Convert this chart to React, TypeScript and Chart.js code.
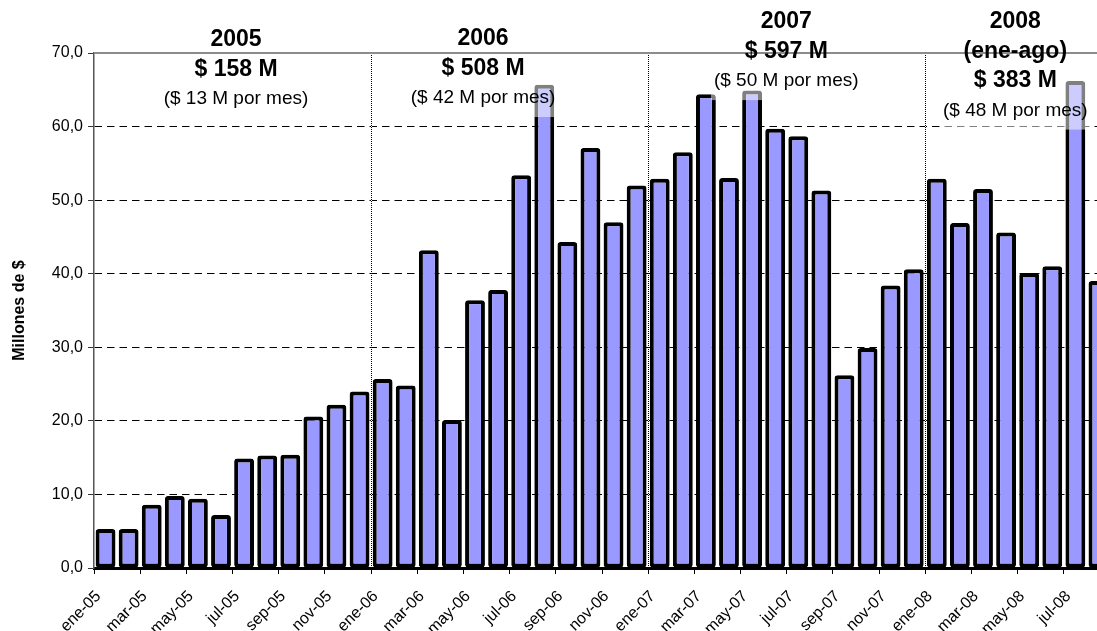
import React, { useEffect, useRef } from 'react';
import { Chart, registerables } from 'chart.js';

Chart.register(...registerables);

// Monthly categories, January 2005 through August 2008
const months: string[] = [
  'ene-05', 'feb-05', 'mar-05', 'abr-05', 'may-05', 'jun-05', 'jul-05', 'ago-05', 'sep-05', 'oct-05', 'nov-05', 'dic-05',
  'ene-06', 'feb-06', 'mar-06', 'abr-06', 'may-06', 'jun-06', 'jul-06', 'ago-06', 'sep-06', 'oct-06', 'nov-06', 'dic-06',
  'ene-07', 'feb-07', 'mar-07', 'abr-07', 'may-07', 'jun-07', 'jul-07', 'ago-07', 'sep-07', 'oct-07', 'nov-07', 'dic-07',
  'ene-08', 'feb-08', 'mar-08', 'abr-08', 'may-08', 'jun-08', 'jul-08', 'ago-08',
];

// Monthly amounts, millions of $
const values2005: number[] = [5.3, 5.3, 8.6, 9.8, 9.4, 7.2, 14.9, 15.3, 15.4, 20.6, 22.2, 24.0];
const values2006: number[] = [25.7, 24.8, 43.2, 20.1, 36.4, 37.8, 53.4, 65.7, 44.3, 57.1, 47.0, 52.0];
const values2007: number[] = [52.9, 56.5, 64.4, 53.0, 64.9, 59.7, 58.7, 51.3, 26.2, 29.9, 38.4, 40.6];
const values2008: number[] = [52.9, 46.9, 51.5, 45.6, 40.1, 41.0, 66.2, 39.0];

const yTicks: number[] = [0, 10, 20, 30, 40, 50, 60, 70];

// Yearly summary notes
const noteYears: string[] = ['2005', '2006', '2007', '2008'];
const noteSubtitles: (string | null)[] = [null, null, null, '(ene-ago)'];
const noteTotals: string[] = ['$ 158 M', '$ 508 M', '$ 597 M', '$ 383 M'];
const noteMonthly: string[] = ['($ 13 M por mes)', '($ 42 M por mes)', '($ 50 M por mes)', '($ 48 M por mes)'];

// Anchor of each note in scale units: category position (x) and value of the first line (y)
const noteAnchorX: number[] = [5.65, 16.35, 29.48, 39.4];
const noteAnchorY: number[] = [71.8, 71.9, 74.2, 74.2];

const FONT = '"Liberation Sans", Arial, Helvetica, sans-serif';
const BAR_FILL = '#9999FF';

const allValues = [...values2005, ...values2006, ...values2007, ...values2008];
const yearStarts = months.map((m, i) => (i > 0 && m.startsWith('ene-') ? i : -1)).filter((i) => i > 0);

const fmt = (v: number) => v.toFixed(1).replace('.', ',');

const decorPlugin = {
  id: 'decor',
  afterDatasetsDraw(chart: any) {
    const { ctx, chartArea } = chart;
    const xs = chart.scales.x;
    const ys = chart.scales.y;
    ctx.save();

    // dotted dividers between years
    yearStarts.forEach((i) => {
      const px = Math.round((xs.getPixelForValue(i - 1) + xs.getPixelForValue(i)) / 2) + 0.5;
      ctx.beginPath();
      ctx.moveTo(px, chartArea.top);
      ctx.lineTo(px, chartArea.bottom);
      ctx.lineWidth = 1;
      ctx.setLineDash([]);
      ctx.strokeStyle = '#ffffff';
      ctx.stroke();
      ctx.setLineDash([1, 1]);
      ctx.strokeStyle = '#000000';
      ctx.stroke();
    });
    ctx.setLineDash([]);

    // note layout
    const lineGap = 29.5;
    const boldFont = `bold 23px ${FONT}`;
    const regFont = `19px ${FONT}`;
    const notes = noteYears.map((year, k) => {
      const lines: { text: string; font: string }[] = [{ text: year, font: boldFont }];
      if (noteSubtitles[k]) lines.push({ text: noteSubtitles[k] as string, font: boldFont });
      lines.push({ text: noteTotals[k], font: boldFont });
      lines.push({ text: noteMonthly[k], font: regFont });
      const cx = xs.getPixelForValue(noteAnchorX[k]);
      const cy = ys.getPixelForValue(noteAnchorY[k]);
      let w = 0;
      lines.forEach((l) => {
        ctx.font = l.font;
        w = Math.max(w, ctx.measureText(l.text).width);
      });
      return { lines, cx, cy, w };
    });

    // translucent text boxes
    ctx.fillStyle = 'rgba(255,255,255,0.5)';
    notes.forEach((n) => {
      const top = n.cy - 19;
      const bottom = n.cy + (n.lines.length - 1) * lineGap + 19;
      ctx.fillRect(n.cx - n.w / 2 - 3, top, n.w + 6, bottom - top);
    });

    // top border of the plot
    ctx.beginPath();
    ctx.moveTo(chartArea.left, chartArea.top);
    ctx.lineTo(chart.width, chartArea.top);
    ctx.lineWidth = 2;
    ctx.strokeStyle = '#8c8c8c';
    ctx.stroke();

    // note text
    ctx.fillStyle = '#000';
    ctx.textAlign = 'center';
    ctx.textBaseline = 'middle';
    notes.forEach((n) => {
      n.lines.forEach((l, j) => {
        ctx.font = l.font;
        ctx.fillText(l.text, n.cx, n.cy + j * lineGap);
      });
    });

    // y axis title
    ctx.save();
    ctx.translate(20, (chartArea.top + chartArea.bottom) / 2);
    ctx.rotate(-Math.PI / 2);
    ctx.font = `bold 16px ${FONT}`;
    ctx.fillText('Millones de $', 0, 0);
    ctx.restore();

    ctx.restore();
  },
};

export default function App() {
  const canvasRef = useRef<HTMLCanvasElement | null>(null);

  useEffect(() => {
    if (!canvasRef.current) return;
    const chart = new Chart(canvasRef.current, {
      type: 'bar',
      data: {
        labels: months,
        datasets: [
          {
            data: allValues,
            backgroundColor: BAR_FILL,
            borderColor: '#000000',
            borderWidth: 4,
            borderSkipped: false,
            borderRadius: 3,
            barPercentage: 0.86,
            categoryPercentage: 1,
          },
        ],
      },
      options: {
        responsive: false,
        maintainAspectRatio: false,
        animation: false,
        devicePixelRatio: 1,
        layout: { padding: { top: 53, left: 0, right: 0, bottom: 0 } },
        plugins: {
          legend: { display: false },
          tooltip: { enabled: false },
          title: { display: false },
        },
        scales: {
          x: {
            offset: true,
            grid: {
              offset: true,
              drawOnChartArea: false,
              drawTicks: true,
              tickLength: 6,
              tickColor: (c: any) => (c.index % 2 === 0 ? '#000' : 'rgba(0,0,0,0)'),
            },
            border: { display: true, color: '#000', width: 3 },
            ticks: {
              autoSkip: false,
              maxRotation: 45,
              minRotation: 45,
              padding: 13,
              labelOffset: -7,
              color: '#000',
              font: { family: FONT, size: 16 },
              callback: (_v: any, i: number) => (i % 2 === 0 ? months[i] : ''),
            },
            afterFit: (s: any) => {
              s.height = 63;
              s.paddingLeft = 0;
              s.paddingRight = 0;
            },
          },
          y: {
            min: 0,
            max: 70,
            afterBuildTicks: (s: any) => {
              s.ticks = yTicks.map((v) => ({ value: v }));
            },
            grid: {
              color: (c: any) => (c.tick && (c.tick.value === 0 || c.tick.value === 70) ? 'rgba(0,0,0,0)' : '#000'),
              lineWidth: 1,
              tickLength: 6,
              tickColor: '#333',
              drawTicks: true,
            },
            border: { display: true, color: '#555', width: 1.5, dash: [7.5, 5] },
            ticks: {
              padding: 5,
              color: '#000',
              font: { family: FONT, size: 16 },
              callback: (v: any) => fmt(Number(v)),
            },
            afterFit: (s: any) => {
              s.width = 94;
            },
          },
        },
      },
      plugins: [decorPlugin],
    });
    return () => chart.destroy();
  }, []);

  return (
    <div
      style={{
        position: 'fixed',
        left: 0,
        top: 0,
        width: 1097,
        height: 631,
        overflow: 'hidden',
        background: '#ffffff',
      }}
    >
      <canvas ref={canvasRef} width={1110} height={631} style={{ display: 'block' }} />
    </div>
  );
}
